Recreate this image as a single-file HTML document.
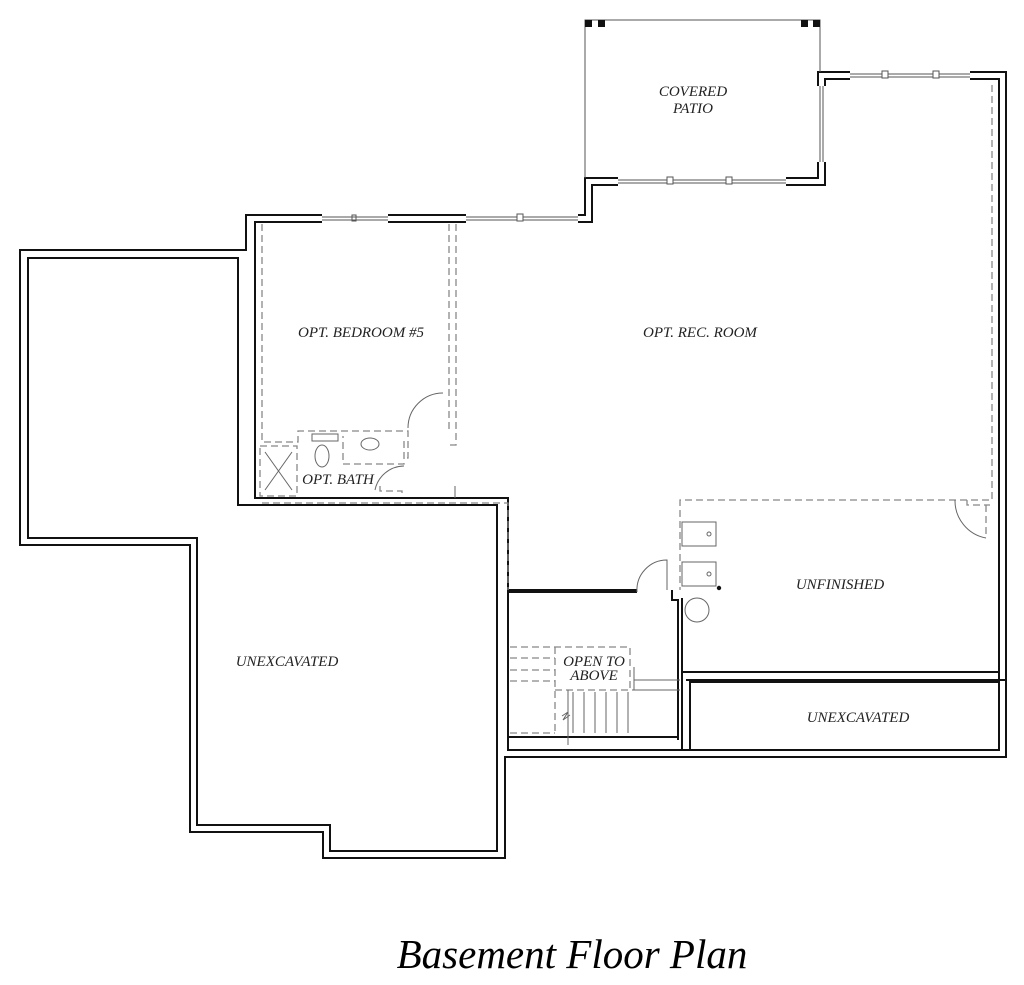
<!DOCTYPE html>
<html><head><meta charset="utf-8"><style>
html,body{margin:0;padding:0;background:#fff;width:1024px;height:985px;overflow:hidden}
svg{display:block}
text{font-family:"Liberation Serif",serif;font-style:italic;fill:#222}
</style></head><body>
<svg width="1024" height="985" viewBox="0 0 1024 985" xmlns="http://www.w3.org/2000/svg">
<g fill="none" stroke="#111" stroke-width="2">
<path d="M246,215 H585 V178 H818 V72 H1006 V757 H505 V858 H323 V832 H190 V545 H20 V250 H246 Z"/>
<path d="M28,258 H238 V505 H497 V851 H330 V825 H197 V538 H28 Z"/>
<path d="M255,222 H592 V185 H825 V79 H999 V750 H508 V498 H255 Z"/>
<path d="M508,592 H637"/>
<path d="M508,590 H637"/>
<path d="M672,590 V600 H678 V740" />
<path d="M682,598 V672 H999"/>
<path d="M682,672 V750"/>
<path d="M508,737 H678"/>
<rect x="690" y="682" width="309" height="68"/>
<path d="M686,680 H1006"/>
</g>
<g fill="#fff" stroke="none">
<rect x="322" y="214" width="66" height="10"/>
<rect x="466" y="214" width="112" height="10"/>
<rect x="618" y="177" width="168" height="10"/>
<rect x="850" y="71" width="120" height="10"/>
<rect x="817" y="86" width="10" height="76"/>
</g>
<g stroke="#555" stroke-width="1" fill="none">
<path d="M322,217 H388 M322,220 H388 M466,217 H578 M466,220 H578"/>
<path d="M618,180 H786 M618,183 H786"/>
<path d="M850,74 H970 M850,77 H970"/>
<path d="M820,86 V162 M823,86 V162"/>
<rect x="517" y="214" width="6" height="7" fill="#fff"/>
<rect x="352" y="215" width="4" height="6"/>
<rect x="667" y="177" width="6" height="7" fill="#fff"/>
<rect x="726" y="177" width="6" height="7" fill="#fff"/>
<rect x="882" y="71" width="6" height="7" fill="#fff"/>
<rect x="933" y="71" width="6" height="7" fill="#fff"/>
<path d="M585,178 V20 H820 V72"/>
</g>
<g fill="#111">
<rect x="585" y="20" width="7" height="7"/><rect x="598" y="20" width="7" height="7"/>
<rect x="801" y="20" width="7" height="7"/><rect x="813" y="20" width="7" height="7"/>
<circle cx="719" cy="588" r="2.2"/>
</g>
<g stroke="#888" stroke-width="1.3" fill="none" stroke-dasharray="7,4">
<path d="M262,224 V442 H298 V431 H408 V458 H404"/>
<path d="M449,224 V432 M456,224 V445 H449"/>
<path d="M260,446 H297 V496 H260 Z"/>
<path d="M404,441 V464 H343 V436"/>
<path d="M380,486 V491 H402 V496"/>
<path d="M262,503 H508 V590"/>
<path d="M992,85 V500 H680 V590"/>
<path d="M967,500 V505 H990"/>
<path d="M986,505 V538"/>
<path d="M510,647 H630 V690 H555"/>
<path d="M510,658 H555 M510,670 H555 M510,681 H555"/>
<path d="M555,647 V735 M510,733 H555"/>
</g>
<g stroke="#666" stroke-width="1" fill="none">
<path d="M265,452 L292,490 M292,452 L265,490"/>
<path d="M312,434 H338 V441 H312 Z"/>
<ellipse cx="322" cy="456" rx="7" ry="11"/>
<ellipse cx="370" cy="444" rx="9" ry="6"/>
<path d="M443,393 A35,35 0 0 0 408,428"/>
<path d="M404,466 A30,30 0 0 0 375,490"/>
<path d="M455,486 V498"/>
<path d="M955,500 A38,38 0 0 0 986,538"/>
<path d="M637,592 A30,30 0 0 1 667,560 V590"/>
<rect x="682" y="522" width="34" height="24"/><circle cx="709" cy="534" r="2"/>
<rect x="682" y="562" width="34" height="24"/><circle cx="709" cy="574" r="2"/>
<circle cx="697" cy="610" r="12"/>
<path d="M573,692 V733 M584,692 V733 M595,692 V733 M606,692 V733 M617,692 V733 M628,692 V733"/>
<path d="M632,690 H680 M634,667 V690 M634,680 H680"/>
<path d="M568,690 V745 M562,716 L568,712 L563,720 L570,715"/>
</g>
<g font-size="15" text-anchor="middle">
<text x="693" y="96">COVERED</text><text x="693" y="113">PATIO</text>
<text x="361" y="337">OPT. BEDROOM #5</text>
<text x="700" y="337">OPT. REC. ROOM</text>
<text x="338" y="484">OPT. BATH</text>
<text x="840" y="589">UNFINISHED</text>
<text x="287" y="666">UNEXCAVATED</text>
<text x="594" y="666">OPEN TO</text><text x="594" y="680">ABOVE</text>
<text x="858" y="722">UNEXCAVATED</text>
</g>
<text x="572" y="968" font-size="41" text-anchor="middle" style="fill:#000">Basement Floor Plan</text>
</svg>
</body></html>
